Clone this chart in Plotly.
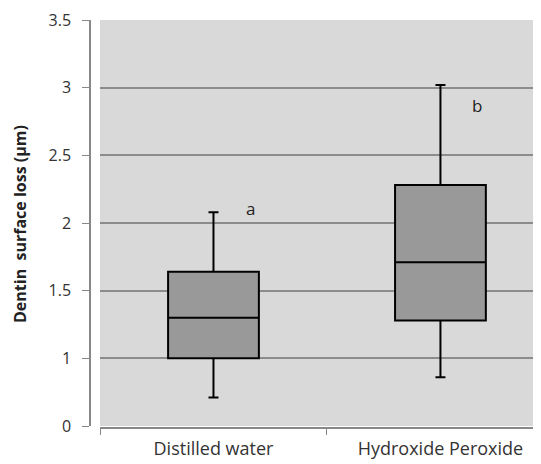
import plotly.graph_objects as go

groups = ["Distilled water", "Hydroxide Peroxide"]
lower = [0.71, 0.86]
q1 = [1.0, 1.28]
median = [1.30, 1.71]
q3 = [1.64, 2.28]
upper = [2.08, 3.02]
letters = ["a", "b"]
letter_y = [2.11, 2.87]

tick_vals = [0.5, 1, 1.5, 2, 2.5, 3, 3.5]
tick_text = ["0", "1", "1.5", "2", "2.5", "3", "3.5"]

fig = go.Figure()

fig.add_trace(go.Box(
    x=groups,
    q1=q1,
    median=median,
    q3=q3,
    lowerfence=lower,
    upperfence=upper,
    width=0.4,
    whiskerwidth=0.11,
    fillcolor="#999999",
    line=dict(color="black", width=2),
    boxpoints=False,
    showlegend=False
))

for g, t, yv in zip(groups, letters, letter_y):
    fig.add_annotation(
        x=g, y=yv, text=t, showarrow=False, xshift=37,
        font=dict(family="Open Sans", size=17, color="#222")
    )

fig.add_annotation(
    xref="paper", yref="paper", x=-70 / 451, y=0.5,
    xanchor="center", yanchor="middle",
    text="<b>Dentin  surface loss (µm)</b>", textangle=-90, showarrow=False,
    font=dict(family="Open Sans", size=16, color="#222")
)

# page body has an 8px margin, so the figure is shrunk and shifted by 8px
fig.update_layout(
    width=533,
    height=456,
    margin=dict(l=82, r=0, t=12, b=36, autoexpand=False),
    paper_bgcolor="white",
    plot_bgcolor="#d9d9d9",
    font=dict(family="Open Sans", color="#333"),
    xaxis=dict(
        type="category",
        range=[-0.5, 1.443],
        domain=[10 / 451, 1],
        anchor="free",
        position=0,
        automargin=False,
        tickson="boundaries",
        ticks="outside",
        ticklen=6,
        tickcolor="#888",
        showline=True,
        linecolor="#888",
        linewidth=1.5,
        showgrid=False,
        ticklabelstandoff=5,
        tickfont=dict(size=18, color="#333")
    ),
    yaxis=dict(
        range=[0.5, 3.5],
        domain=[2 / 408, 1],
        anchor="free",
        position=0,
        automargin=False,
        tickvals=tick_vals,
        ticktext=tick_text,
        ticks="outside",
        ticklen=7,
        tickcolor="#888",
        showline=True,
        linecolor="#888",
        linewidth=1.5,
        showgrid=True,
        gridcolor="#8c8c8c",
        gridwidth=1.5,
        zeroline=False,
        ticklabelstandoff=8,
        tickfont=dict(size=16, color="#333")
    )
)

fig.write_html("out.html")
